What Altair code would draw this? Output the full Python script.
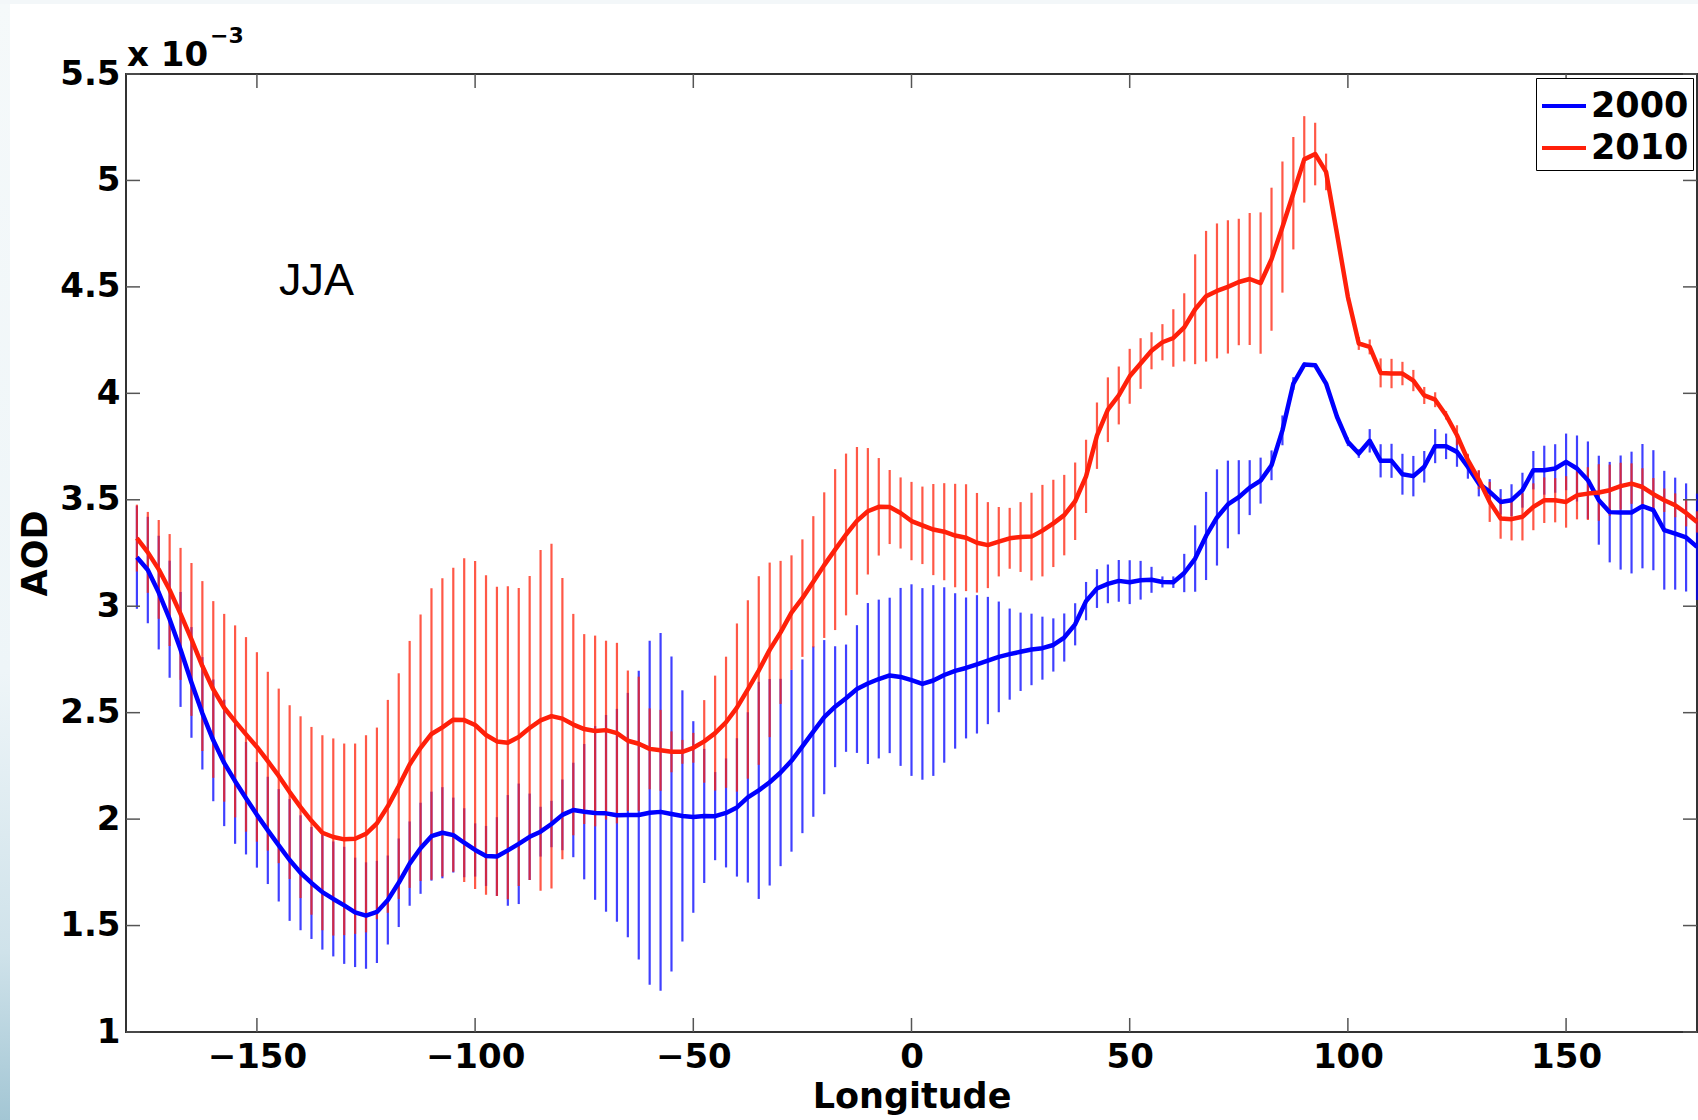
import altair as alt
import pandas as pd

# longitude grid (2.5 degree cells)
lon = [round(-177.5 + 2.5 * k, 1) for k in range(144)]

aod_2000 = [
    3.23, 3.17, 3.064, 2.939, 2.797, 2.642, 2.497, 2.37, 2.264, 2.178,
    2.098, 2.02, 1.947, 1.877, 1.808, 1.748, 1.70, 1.657, 1.625, 1.595,
    1.562, 1.547, 1.564, 1.62, 1.701, 1.791, 1.863, 1.92, 1.936, 1.925,
    1.889, 1.855, 1.827, 1.824, 1.853, 1.884, 1.917, 1.941, 1.977, 2.02,
    2.043, 2.035, 2.029, 2.027, 2.018, 2.019, 2.019, 2.03, 2.034, 2.024,
    2.015, 2.01, 2.015, 2.014, 2.029, 2.055, 2.102, 2.135, 2.173, 2.219,
    2.274, 2.342, 2.411, 2.479, 2.528, 2.568, 2.611, 2.637, 2.658, 2.675,
    2.668, 2.653, 2.635, 2.651, 2.677, 2.696, 2.71, 2.727, 2.745, 2.762,
    2.775, 2.786, 2.797, 2.803, 2.818, 2.853, 2.915, 3.024, 3.083, 3.105,
    3.119, 3.113, 3.122, 3.124, 3.114, 3.113, 3.156, 3.224, 3.33, 3.417,
    3.478, 3.512, 3.557, 3.59, 3.662, 3.826, 4.046, 4.135, 4.132, 4.046,
    3.89, 3.772, 3.717, 3.777, 3.683, 3.683, 3.62, 3.611, 3.655, 3.752,
    3.751, 3.725, 3.654, 3.576, 3.537, 3.49, 3.498, 3.545, 3.639, 3.639,
    3.647, 3.678, 3.647, 3.592, 3.498, 3.442, 3.44, 3.44, 3.47, 3.451,
    3.357, 3.341, 3.323, 3.279,
]

err_2000 = [
    0.242, 0.25, 0.267, 0.275, 0.27, 0.26, 0.264, 0.286, 0.297, 0.294,
    0.264, 0.248, 0.252, 0.264, 0.286, 0.27, 0.263, 0.27, 0.27, 0.275,
    0.257, 0.25, 0.24, 0.209, 0.208, 0.198, 0.214, 0.209, 0.214, 0.176,
    0.162, 0.125, 0.141, 0.185, 0.26, 0.283, 0.203, 0.117, 0.109, 0.166,
    0.222, 0.318, 0.408, 0.462, 0.50, 0.574, 0.678, 0.808, 0.84, 0.74,
    0.59, 0.45, 0.315, 0.207, 0.256, 0.325, 0.40, 0.51, 0.485, 0.44,
    0.427, 0.408, 0.40, 0.362, 0.284, 0.252, 0.30, 0.378, 0.373, 0.365,
    0.418, 0.45, 0.45, 0.448, 0.412, 0.365, 0.331, 0.325, 0.299, 0.26,
    0.214, 0.184, 0.168, 0.148, 0.125, 0.113, 0.099, 0.09, 0.091, 0.091,
    0.098, 0.103, 0.091, 0.061, 0.026, 0.027, 0.09, 0.156, 0.207, 0.226,
    0.206, 0.174, 0.129, 0.108, 0.07, 0.07, 0.03, 0.01, 0.01, 0.01,
    0.01, 0.02, 0.02, 0.055, 0.078, 0.08, 0.096, 0.095, 0.074, 0.08,
    0.06, 0.07, 0.055, 0.06, 0.06, 0.06, 0.075, 0.082, 0.09, 0.115,
    0.114, 0.133, 0.155, 0.182, 0.209, 0.236, 0.268, 0.286, 0.292, 0.282,
    0.279, 0.263, 0.254, 0.25,
]

aod_2010 = [
    3.32, 3.253, 3.173, 3.076, 2.964, 2.844, 2.719, 2.609, 2.523, 2.459,
    2.398, 2.339, 2.272, 2.203, 2.127, 2.056, 1.992, 1.936, 1.916, 1.905,
    1.908, 1.931, 1.98, 2.06, 2.155, 2.257, 2.335, 2.40, 2.431, 2.467,
    2.465, 2.442, 2.395, 2.365, 2.359, 2.386, 2.428, 2.464, 2.484, 2.472,
    2.444, 2.423, 2.414, 2.418, 2.404, 2.368, 2.354, 2.33, 2.323, 2.316,
    2.316, 2.335, 2.365, 2.404, 2.455, 2.524, 2.609, 2.698, 2.795, 2.877,
    2.97, 3.038, 3.115, 3.193, 3.266, 3.337, 3.401, 3.446, 3.467, 3.466,
    3.438, 3.40, 3.38, 3.36, 3.35, 3.332, 3.322, 3.298, 3.287, 3.303,
    3.319, 3.325, 3.327, 3.355, 3.389, 3.428, 3.493, 3.61, 3.801, 3.923,
    3.99, 4.08, 4.14, 4.2, 4.24, 4.26, 4.31, 4.395, 4.456, 4.481,
    4.50, 4.523, 4.537, 4.518, 4.63, 4.781, 4.94, 5.099, 5.124, 5.04,
    4.75, 4.453, 4.234, 4.218, 4.096, 4.093, 4.093, 4.06, 3.99, 3.97,
    3.897, 3.803, 3.686, 3.595, 3.49, 3.412, 3.409, 3.42, 3.467, 3.498,
    3.498, 3.49, 3.521, 3.529, 3.534, 3.545, 3.564, 3.576, 3.56, 3.526,
    3.498, 3.474, 3.438, 3.396,
]

err_2010 = [
    0.157, 0.19, 0.232, 0.263, 0.31, 0.359, 0.399, 0.415, 0.441, 0.451,
    0.457, 0.445, 0.42, 0.41, 0.408, 0.427, 0.441, 0.458, 0.463, 0.45,
    0.447, 0.463, 0.45, 0.5, 0.53, 0.58, 0.626, 0.685, 0.70, 0.714,
    0.76, 0.77, 0.75, 0.726, 0.735, 0.70, 0.714, 0.80, 0.81, 0.66,
    0.52, 0.446, 0.448, 0.42, 0.424, 0.33, 0.315, 0.19, 0.19, 0.096,
    0.056, 0.07, 0.194, 0.27, 0.308, 0.395, 0.419, 0.443, 0.41, 0.336,
    0.269, 0.276, 0.308, 0.342, 0.378, 0.38, 0.347, 0.297, 0.229, 0.174,
    0.167, 0.184, 0.182, 0.214, 0.228, 0.243, 0.251, 0.234, 0.202, 0.163,
    0.143, 0.164, 0.206, 0.215, 0.205, 0.189, 0.182, 0.172, 0.156, 0.152,
    0.136, 0.129, 0.119, 0.087, 0.085, 0.135, 0.16, 0.258, 0.307, 0.317,
    0.313, 0.297, 0.31, 0.332, 0.336, 0.308, 0.264, 0.203, 0.147, 0.086,
    0.02, 0.02, 0.03, 0.035, 0.068, 0.069, 0.055, 0.05, 0.04, 0.035,
    0.02, 0.047, 0.03, 0.045, 0.094, 0.095, 0.1, 0.111, 0.11, 0.107,
    0.104, 0.121, 0.113, 0.124, 0.133, 0.12, 0.11, 0.095, 0.088, 0.076,
    0.055, 0.056, 0.063, 0.05,
]

years = ["2000", "2010"]
colors = ["#0000ff", "#ff200a"]
x_ticks = [-150, -100, -50, 0, 50, 100, 150]
y_ticks = [1, 1.5, 2, 2.5, 3, 3.5, 4, 4.5, 5, 5.5]

W, H = 1571, 958
PAD_L, PAD_T, PAD_B = 126, 74, 88
TICK = 14
FONT = "DejaVu Sans"

rows = []
for yr, vals, errs in ((years[0], aod_2000, err_2000), (years[1], aod_2010, err_2010)):
    for lo_, v, e in zip(lon, vals, errs):
        rows.append({"year": yr, "lon": lo_, "aod": v, "lo": v - e, "hi": v + e})
df = pd.DataFrame(rows)

xs = alt.Scale(domain=[-180, 180], nice=False, zero=False)
ys = alt.Scale(domain=[1, 5.5], nice=False, zero=False)

x_axis = alt.Axis(values=x_ticks, title="Longitude", labelPadding=8,
                  titleY=64, titleBaseline="middle", zindex=1)
y_axis = alt.Axis(values=y_ticks, format="~g", title="AOD", labelPadding=6,
                  titleAngle=270, titleX=-91, titleY=H / 2,
                  titleAlign="center", titleBaseline="middle", zindex=1)

# page edge decoration (slide background strip on the left and top)
one = pd.DataFrame({"t": [""]})
edge_left = alt.Chart(one).mark_rect(
    fill=alt.LinearGradient(
        gradient="linear", x1=0, y1=0, x2=0, y2=1,
        stops=[alt.GradientStop(offset=0, color="#f5f9fa"),
               alt.GradientStop(offset=0.6, color="#eef5f8"),
               alt.GradientStop(offset=0.85, color="#cfe2ea"),
               alt.GradientStop(offset=1, color="#a3c6d4")]),
    strokeWidth=0,
).encode(x=alt.value(-PAD_L), x2=alt.value(-PAD_L + 10),
         y=alt.value(-PAD_T), y2=alt.value(H + PAD_B))
edge_top = alt.Chart(one).mark_rect(fill="#f3f7f9", strokeWidth=0).encode(
    x=alt.value(-PAD_L), x2=alt.value(W + 1),
    y=alt.value(-PAD_T), y2=alt.value(-PAD_T + 4))

base = alt.Chart(df)

bars0 = base.transform_filter(alt.datum.year == years[0]).mark_rule(
    color=colors[0], strokeWidth=2.2, opacity=0.75
).encode(
    x=alt.X("lon:Q", scale=xs, axis=x_axis),
    y=alt.Y("lo:Q", scale=ys, axis=y_axis),
    y2="hi:Q",
)

bars1 = base.transform_filter(alt.datum.year == years[1]).mark_rule(
    color=colors[1], strokeWidth=2.2, opacity=0.75
).encode(x="lon:Q", y="lo:Q", y2="hi:Q")

lines = base.mark_line(strokeWidth=4.5, strokeJoin="round").encode(
    x="lon:Q",
    y="aod:Q",
    order="lon:Q",
    color=alt.Color(
        "year:N",
        scale=alt.Scale(domain=years, range=colors),
        legend=alt.Legend(
            title=None, orient="none", legendX=1410, legendY=4,
            symbolType="stroke", symbolStrokeWidth=4, symbolSize=1936,
            labelFont=FONT, labelFontWeight="bold", labelFontSize=35,
            labelColor="black", strokeColor="black", fillColor="white",
            padding=4, rowPadding=0, labelOffset=3,
        ),
    ),
)

xt = pd.DataFrame({"lon": x_ticks})
yt = pd.DataFrame({"aod": y_ticks})
tick_style = dict(color="#555555", strokeWidth=1.5)
xt_bottom = alt.Chart(xt).mark_rule(**tick_style).encode(
    x="lon:Q", y=alt.value(H), y2=alt.value(H - TICK))
xt_top = alt.Chart(xt).mark_rule(**tick_style).encode(
    x="lon:Q", y=alt.value(0), y2=alt.value(TICK))
yt_left = alt.Chart(yt).mark_rule(**tick_style).encode(
    y="aod:Q", x=alt.value(0), x2=alt.value(TICK))
yt_right = alt.Chart(yt).mark_rule(**tick_style).encode(
    y="aod:Q", x=alt.value(W - TICK), x2=alt.value(W))

exp_base = alt.Chart(pd.DataFrame({"t": ["x 10"]})).mark_text(
    font=FONT, fontWeight="bold", fontSize=34, align="left", baseline="alphabetic", color="black"
).encode(text="t:N", x=alt.value(1), y=alt.value(-8))
exp_pow = alt.Chart(pd.DataFrame({"t": ["\u22123"]})).mark_text(
    font=FONT, fontWeight="bold", fontSize=22, align="left", baseline="alphabetic", color="black"
).encode(text="t:N", x=alt.value(84), y=alt.value(-31))
season = alt.Chart(pd.DataFrame({"t": ["JJA"]})).mark_text(
    font="Liberation Sans", fontSize=45, align="left", baseline="alphabetic", color="black"
).encode(text="t:N", x=alt.value(153), y=alt.value(221))

chart = alt.layer(
    edge_left, edge_top, bars0, bars1, lines, xt_bottom, xt_top, yt_left, yt_right,
    exp_base, exp_pow, season
).properties(
    width=W, height=H,
    autosize=alt.AutoSizeParams(type="none"),
    padding={"left": PAD_L, "top": PAD_T, "right": 1, "bottom": PAD_B},
    background="white",
).configure_view(
    stroke="#333333", strokeWidth=2
).configure_axis(
    labelFont=FONT, labelFontWeight="bold", labelFontSize=34, labelColor="black",
    titleFont=FONT, titleFontWeight="bold", titleFontSize=35, titleColor="black",
    domain=False, ticks=False, grid=False,
)

chart.save("out.html", embed_options={"renderer": "svg", "actions": False})
